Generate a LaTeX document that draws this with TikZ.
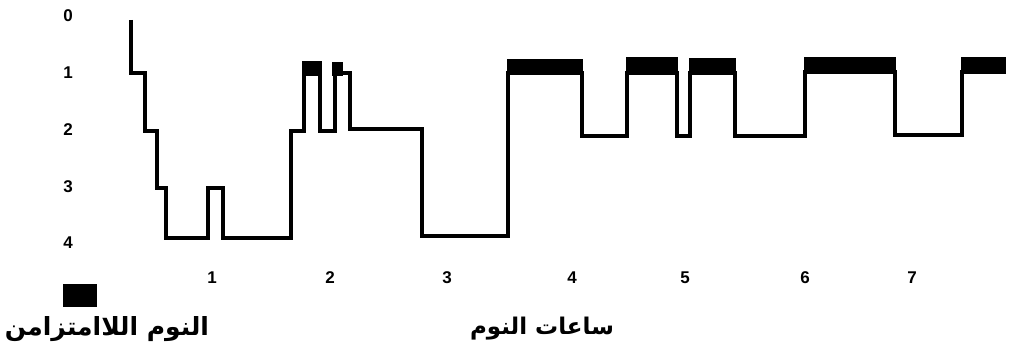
\documentclass[tikz,border=0pt]{standalone}
\usepackage{fontspec}
\setmainfont{Liberation Sans}
\newfontfamily\arabicfont[Script=Arabic]{DejaVu Sans}
\TeXXeTstate=1
\begin{document}
\begin{tikzpicture}[x=1pt,y=-1pt,
  trace/.style={line width=3.4pt,line join=miter},
  rembar/.style={fill=black,draw=none},
  num/.style={font=\fontsize{17}{17}\selectfont\bfseries,inner sep=0pt},
  artext/.style={font=\fontsize{23}{23}\selectfont\arabicfont\bfseries,inner sep=0pt}]
\useasboundingbox (0,0) rectangle (1010,355);
% y axis labels
\node[num] (y0) at (68,16) {0};
\node[num] (y1) at (68,73) {1};
\node[num] (y2) at (68,130) {2};
\node[num] (y3) at (68,187) {3};
\node[num] (y4) at (68,243) {4};
% x axis labels
\node[num] (x1) at (212,278) {1};
\node[num] (x2) at (330,278) {2};
\node[num] (x3) at (447,278) {3};
\node[num] (x4) at (572,278) {4};
\node[num] (x5) at (685,278) {5};
\node[num] (x6) at (805,278) {6};
\node[num] (x7) at (912,278) {7};
% REM bars
\fill[rembar] (302,61) rectangle (322,76);
\fill[rembar] (332,62) rectangle (343,76);
\fill[rembar] (507,59) rectangle (583,74);
\fill[rembar] (626,57) rectangle (678,74);
\fill[rembar] (689,58) rectangle (736,74);
\fill[rembar] (804,57) rectangle (896,73);
\fill[rembar] (961,57) rectangle (1006,72);
% hypnogram
\draw[trace] (131,20) -- (131,73) -- (145,73) -- (145,131) -- (157,131) -- (157,188)
  -- (166,188) -- (166,238) -- (208,238) -- (208,188) -- (223,188) -- (223,238)
  -- (291,238) -- (291,131) -- (304,131) -- (304,64) -- (320,64) -- (320,131)
  -- (335,131) -- (335,64) -- (341,64) -- (341,73) -- (350,73) -- (350,129)
  -- (422,129) -- (422,236) -- (508,236) -- (508,73) -- (582,73) -- (582,136)
  -- (627,136) -- (627,73) -- (677,73) -- (677,136) -- (690,136) -- (690,73)
  -- (735,73) -- (735,136) -- (805,136) -- (805,72) -- (895,72) -- (895,135)
  -- (962,135) -- (962,72) -- (1006,72);
% legend
\fill[rembar] (63,284) rectangle (97,307);
\node[artext,font=\fontsize{25}{25}\selectfont\arabicfont\bfseries] (legend) at (107,329) {\beginR النوم اللاامتزامن\endR};
\node[artext] (xlabel) at (542,329) {\beginR ساعات النوم\endR};
\end{tikzpicture}
\end{document}
